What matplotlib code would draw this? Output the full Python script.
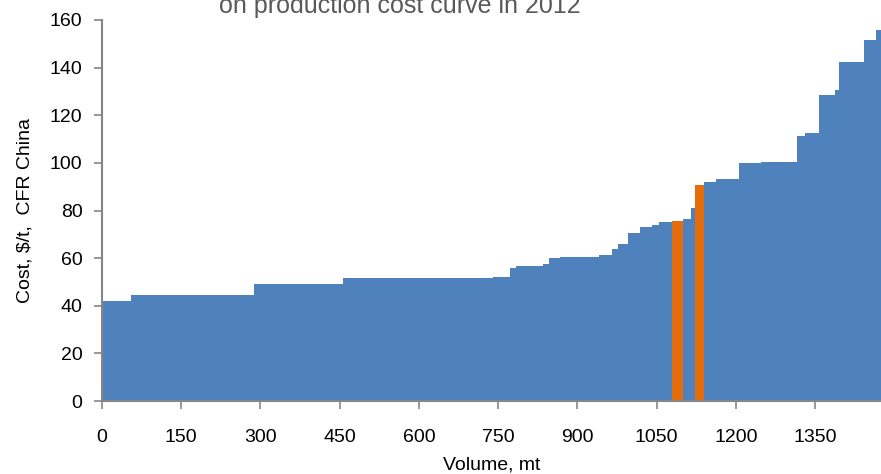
import matplotlib.pyplot as plt
import numpy as np

plt.rcParams['font.family'] = ['Liberation Sans', 'DejaVu Sans']

# capacity of each producer block (mt) and its cost ($/t CFR China)
widths = [54, 233, 169, 284, 32, 11, 52, 11, 21, 74, 24, 12, 19, 22, 23, 13, 25,
          21, 16, 7, 17, 23, 44, 41, 68, 16, 26, 29, 9, 47, 23, 14]
costs = [42.1, 44.7, 49.2, 51.5, 52.0, 56.0, 56.9, 57.5, 60.0, 60.5, 61.2, 63.8, 66.0,
         70.4, 73.0, 74.0, 75.0, 75.6, 76.5, 81.0, 90.5, 92.0, 93.3, 99.8, 100.4,
         111.2, 112.4, 128.3, 130.7, 142.3, 151.4, 155.7]
highlight = [17, 20]  # the two orange blocks

blue = "#4F81BD"
orange = "#E46C0A"
colors = [orange if i in highlight else blue for i in range(len(costs))]
lefts = np.concatenate([[0], np.cumsum(widths)[:-1]])

fig = plt.figure(figsize=(8.81, 4.74), dpi=100)
ax = fig.add_axes([102 / 881, 73 / 474, 779 / 881, 381 / 474])

ax.bar(lefts, costs, width=widths, align="edge", color=colors, linewidth=0)

ax.set_xlim(0, 1475)
ax.set_ylim(0, 160)
ax.set_xticks(np.arange(0, 1351, 150))
ax.set_yticks(np.arange(0, 161, 20))

for s in ["top", "right"]:
	ax.spines[s].set_visible(False)
for s in ["left", "bottom"]:
	ax.spines[s].set_color("#868686")
	ax.spines[s].set_linewidth(1.5)
ax.tick_params(axis="both", colors="#868686", labelcolor="black", labelsize=14,
			   length=6, width=1.2, direction="out")
ax.tick_params(axis="x", pad=14)
ax.tick_params(axis="y", pad=8)

ax.set_xlabel("Volume, mt", size=14, labelpad=8)
ax.set_ylabel("Cost, $/t,  CFR China", size=14, labelpad=12)

fig.text(0.454, 1 - 13 / 474, "on production cost curve in 2012", ha="center",
		 va="baseline", size=18, color="#595959")

fig.savefig("out.png", dpi=100)
